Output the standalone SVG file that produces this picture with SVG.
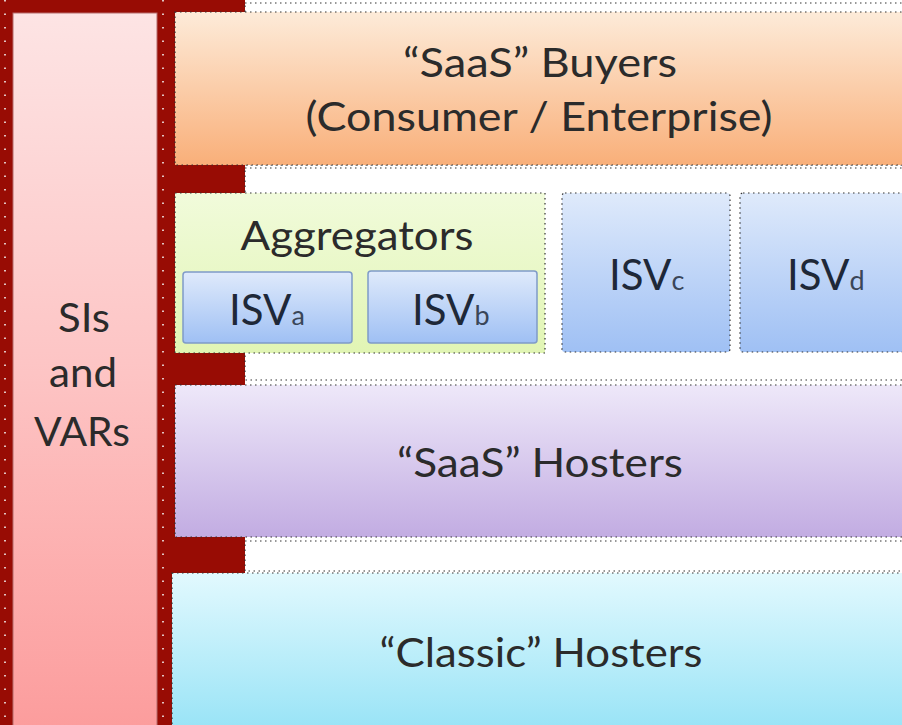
<svg xmlns="http://www.w3.org/2000/svg" width="902" height="725" viewBox="0 0 902 725">
<style>
  .t{font-family:Lato,"Open Sans","Liberation Sans",sans-serif;font-size:41px;fill:#2b2b2b;text-anchor:middle}
  .isv{font-family:Lato,"Open Sans","Liberation Sans",sans-serif;font-size:42px;fill:#1e2838}
  .sub{font-size:27px;fill:#3a4658}
  .dot{fill:none;stroke:#333;stroke-width:1.2;stroke-dasharray:1.5 3.5}
  .wdot{fill:none;stroke:#f4f4f4;stroke-width:1.6;stroke-dasharray:1.5 12}
  .isvbox{stroke:#7f9bc8;stroke-width:1.5}
</style>
<defs>
  <linearGradient id="gPink" x1="0" y1="0" x2="0" y2="1">
    <stop offset="0" stop-color="#fde4e4"/><stop offset="0.5" stop-color="#fdc4c4"/><stop offset="1" stop-color="#fc9c9c"/>
  </linearGradient>
  <linearGradient id="gOrange" x1="0" y1="0" x2="0" y2="1">
    <stop offset="0" stop-color="#fdebd9"/><stop offset="1" stop-color="#f9af79"/>
  </linearGradient>
  <linearGradient id="gGreen" x1="0" y1="0" x2="0" y2="1">
    <stop offset="0" stop-color="#f1fbdb"/><stop offset="1" stop-color="#e1f5b4"/>
  </linearGradient>
  <linearGradient id="gBlue" x1="0" y1="0" x2="0" y2="1">
    <stop offset="0" stop-color="#dfeafb"/><stop offset="1" stop-color="#9fc0f4"/>
  </linearGradient>
  <linearGradient id="gPurple" x1="0" y1="0" x2="0" y2="1">
    <stop offset="0" stop-color="#eee8f9"/><stop offset="1" stop-color="#c2ace2"/>
  </linearGradient>
  <linearGradient id="gCyan" x1="0" y1="0" x2="0" y2="1">
    <stop offset="0" stop-color="#e2f9fe"/><stop offset="1" stop-color="#97e3f6"/>
  </linearGradient>
</defs>

<g id="background">
  <rect x="0" y="0" width="245" height="725" fill="#980c04"/>
  <rect x="245" y="0" width="657" height="725" fill="#ffffff"/>
  <rect x="245" y="3" width="660" height="162" class="dot"/>
  <rect x="245" y="168" width="660" height="212" class="dot"/>
  <rect x="245" y="541" width="660" height="30" class="dot"/>
  <line x1="5" y1="0" x2="5" y2="725" class="wdot"/>
  <line x1="163" y1="0" x2="163" y2="725" class="wdot"/>
</g>

<g id="sis-vars">
  <rect x="13" y="13" width="144" height="720" fill="url(#gPink)" stroke="#b56a6a" stroke-width="1"/>
  <text class="t" x="84" y="332" textLength="52" lengthAdjust="spacingAndGlyphs">SIs</text>
  <text class="t" x="83" y="387" textLength="68" lengthAdjust="spacingAndGlyphs">and</text>
  <text class="t" x="82" y="446" textLength="96" lengthAdjust="spacingAndGlyphs">VARs</text>
</g>

<g id="saas-buyers">
  <rect x="175" y="12" width="735" height="153" fill="url(#gOrange)"/>
  <rect x="175" y="12" width="735" height="153" class="dot"/>
  <text class="t" x="540" y="77" textLength="274" lengthAdjust="spacingAndGlyphs">“SaaS” Buyers</text>
  <text class="t" x="539" y="131" textLength="467" lengthAdjust="spacingAndGlyphs">(Consumer / Enterprise)</text>
</g>

<g id="aggregators">
  <rect x="175" y="193" width="370" height="160" fill="url(#gGreen)"/>
  <rect x="175" y="193" width="370" height="160" class="dot"/>
  <text class="t" x="357" y="250" textLength="233" lengthAdjust="spacingAndGlyphs">Aggregators</text>
</g>

<g id="isv-a">
  <rect x="183" y="272" width="169" height="71" rx="3" fill="url(#gBlue)" class="isvbox"/>
  <text class="isv" x="229" y="325">ISV<tspan class="sub">a</tspan></text>
</g>

<g id="isv-b">
  <rect x="368" y="271" width="169" height="72" rx="3" fill="url(#gBlue)" class="isvbox"/>
  <text class="isv" x="412" y="325">ISV<tspan class="sub">b</tspan></text>
</g>

<g id="isv-c">
  <rect x="562" y="193" width="168" height="159" rx="3" fill="url(#gBlue)"/>
  <rect x="562" y="193" width="168" height="159" rx="3" class="dot"/>
  <text class="isv" x="609" y="290">ISV<tspan class="sub">c</tspan></text>
</g>

<g id="isv-d">
  <rect x="740" y="193" width="170" height="159" rx="3" fill="url(#gBlue)"/>
  <rect x="740" y="193" width="170" height="159" rx="3" class="dot"/>
  <text class="isv" x="787" y="290">ISV<tspan class="sub">d</tspan></text>
</g>

<g id="saas-hosters">
  <rect x="175" y="385" width="735" height="152" fill="url(#gPurple)"/>
  <rect x="175" y="385" width="735" height="152" class="dot"/>
  <text class="t" x="540" y="477" textLength="286" lengthAdjust="spacingAndGlyphs">“SaaS” Hosters</text>
</g>

<g id="classic-hosters">
  <rect x="172" y="573" width="738" height="160" fill="url(#gCyan)"/>
  <rect x="172" y="573" width="738" height="160" class="dot"/>
  <text class="t" x="541" y="667" textLength="323" lengthAdjust="spacingAndGlyphs">“Classic” Hosters</text>
</g>

<g id="connectors"></g>
</svg>
